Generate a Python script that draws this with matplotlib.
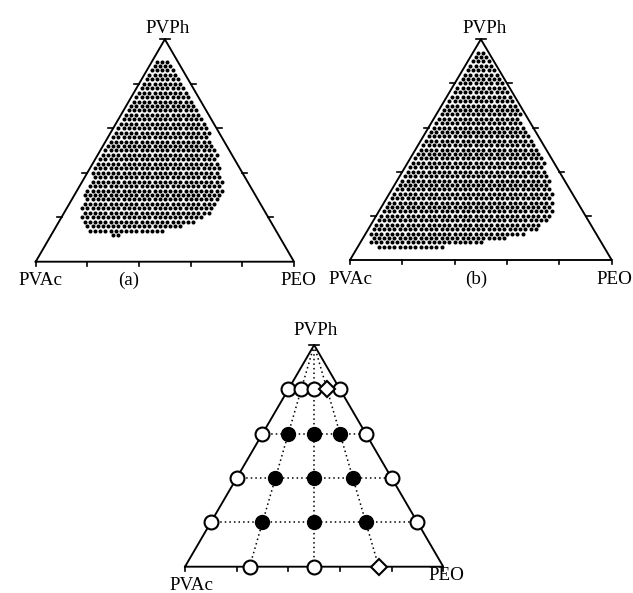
import numpy as np
import matplotlib.pyplot as plt

plt.rcParams['font.family'] = ['Liberation Serif', 'DejaVu Serif']

W, H = 633, 593

# (a) miscible region, one row per PVPh level (wt %), PEO range on a 2 % grid
a_pvph = [90, 88, 86, 84, 82, 80, 78, 76, 74, 72, 70, 68, 66, 64, 62, 60, 58, 56, 54, 52,
          50, 48, 46, 44, 42, 40, 38, 36, 34, 32, 30, 28, 26, 24, 22, 20, 18, 16, 14, 12]
a_peo_lo = [2, 2, 2, 2, 2, 2, 2, 2, 2, 2, 2, 2, 2, 2, 2, 2, 2, 2, 2, 2,
            2, 2, 2, 2, 2, 2, 4, 4, 4, 4, 4, 6, 6, 6, 8, 8, 10, 12, 14, 24]
a_peo_hi = [6, 8, 10, 12, 14, 16, 18, 20, 22, 24, 26, 28, 30, 32, 34, 36, 38, 38, 40, 42,
            44, 46, 46, 48, 50, 50, 52, 54, 54, 56, 56, 56, 56, 56, 56, 54, 52, 48, 42, 26]

# (b) miscible region
b_pvph = [94, 92, 90, 88, 86, 84, 82, 80, 78, 76, 74, 72, 70, 68, 66, 64, 62, 60, 58, 56,
          54, 52, 50, 48, 46, 44, 42, 40, 38, 36, 34, 32, 30, 28, 26, 24, 22, 20, 18, 16,
          14, 12, 10, 8, 6]
b_peo_lo = [2] * 42 + [4, 4, 8]
b_peo_hi = [4, 6, 8, 10, 12, 14, 16, 18, 20, 22, 24, 26, 28, 30, 32, 32, 34, 36, 38, 40,
            42, 44, 46, 48, 50, 52, 52, 54, 56, 58, 58, 60, 62, 62, 64, 64, 66, 66, 66, 64,
            64, 60, 54, 46, 32]

# (c) blends: open = immiscible, filled = miscible, diamond = borderline
open_pvph = [80, 80, 80, 80, 60, 60, 40, 40, 20, 20, 0, 0]
open_peo = [0, 5, 10, 20, 0, 40, 0, 60, 0, 80, 25, 50]
filled_pvph = [60, 60, 60, 40, 40, 40, 20, 20, 20]
filled_peo = [10, 20, 30, 15, 30, 45, 20, 40, 60]
diamond_pvph = [80, 0]
diamond_peo = [15, 75]
tie_pvph = [60, 40, 20]      # horizontal dotted lines
tie_peo_base = [25, 50, 75]  # dotted lines from the PVPh corner


def xy(pvph, peo):
    pvph = np.asarray(pvph, float) / 100
    peo = np.asarray(peo, float) / 100
    return peo + pvph / 2, pvph


def tern_ax(fig, bl, br, top):
    # bl/br: pixel x of base corners, base y; top: pixel y of apex
    ax = fig.add_axes([bl[0] / W, 1 - bl[1] / H, (br - bl[0]) / W, (bl[1] - top) / H])
    ax.set_xlim(0, 1)
    ax.set_ylim(0, 1)
    ax.axis('off')
    wpx = br - bl[0]
    hpx = bl[1] - top
    ax.plot([0, 1, 0.5, 0], [0, 0, 1, 0], color='k', lw=1.35, clip_on=False,
            solid_joinstyle='miter', zorder=3)
    tl = 4 / hpx
    for t in np.arange(0, 1.01, 0.2):
        ax.plot([t, t], [0, -tl], color='k', lw=1.2, clip_on=False)
    sl = 5 / wpx
    for p in np.arange(0.2, 1.01, 0.2):
        ax.plot([p / 2, p / 2 - sl], [p, p], color='k', lw=1.2, clip_on=False)
        ax.plot([1 - p / 2, 1 - p / 2 + sl], [p, p], color='k', lw=1.2, clip_on=False)
    return ax


def label(ax, text, corner, dx, dy):
    ax.annotate(text, xy=corner, xytext=(dx, dy), textcoords='offset pixels',
                ha='center', va='baseline', fontsize=13.7, annotation_clip=False)


def region(ax, pvph, lo, hi):
    pts_p, pts_e = [], []
    for p, a, b in zip(pvph, lo, hi):
        for e in range(a, b + 1, 2):
            pts_p.append(p)
            pts_e.append(e)
    x, y = xy(pts_p, pts_e)
    ax.plot(x, y, 'o', color='k', ms=2.9, mew=0, clip_on=False)


fig = plt.figure(figsize=(W / 100, H / 100), dpi=100)

ax_a = tern_ax(fig, (35.7, 261.7), 294.0, 39.3)
region(ax_a, a_pvph, a_peo_lo, a_peo_hi)
label(ax_a, 'PVPh', (0.5, 1), 2.7, 6.3)
label(ax_a, 'PVAc', (0, 0), 4.3, -23.3)
label(ax_a, '(a)', (0, 0), 93.3, -23.3)
label(ax_a, 'PEO', (1, 0), 4, -23.3)

ax_b = tern_ax(fig, (350.0, 260.0), 611.7, 39.3)
region(ax_b, b_pvph, b_peo_lo, b_peo_hi)
label(ax_b, 'PVPh', (0.5, 1), 4, 6.3)
label(ax_b, 'PVAc', (0, 0), 0, -24)
label(ax_b, '(b)', (0, 0), 126, -24)
label(ax_b, 'PEO', (1, 0), 2.3, -24)

ax_c = tern_ax(fig, (185.0, 566.7), 443.3, 345.0)
dot = dict(color='k', lw=1.1, ls=(0, (1, 2)), zorder=1)
for p in tie_pvph:
    x, y = xy([p, p], [0, 100 - p])
    ax_c.plot(x, y, **dot)
for e in tie_peo_base:
    x, y = xy([100, 0], [0, e])
    ax_c.plot(x, y, **dot)
x, y = xy(open_pvph, open_peo)
ax_c.plot(x, y, 'o', ms=10, mfc='white', mec='k', mew=1.5, ls='none', clip_on=False, zorder=4)
x, y = xy(filled_pvph, filled_peo)
ax_c.plot(x, y, 'o', ms=10, mfc='k', mec='k', ls='none', clip_on=False, zorder=4)
x, y = xy(diamond_pvph, diamond_peo)
ax_c.plot(x, y, 'D', ms=8.5, mfc='white', mec='k', mew=1.5, ls='none', clip_on=False, zorder=4)
label(ax_c, 'PVPh', (0.5, 1), 1.8, 10)
label(ax_c, 'PVAc', (0, 0), 6.7, -23.3)
label(ax_c, 'PEO', (1, 0), 2.7, -13.3)

fig.savefig('out.png', dpi=100)
